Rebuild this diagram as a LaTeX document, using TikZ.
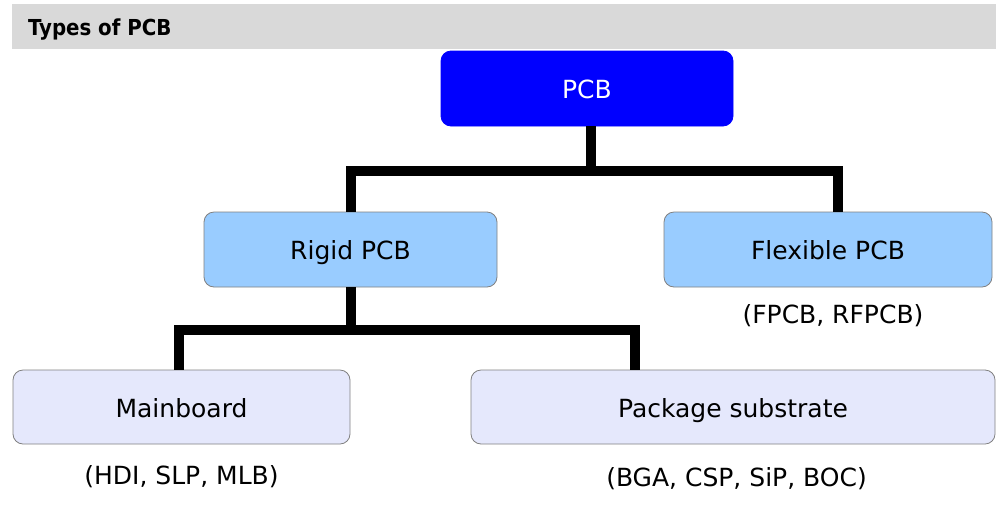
\documentclass[tikz,border=0pt]{standalone}
\usepackage{fontspec}
\setmainfont{DejaVu Sans}
\newfontfamily\titlefont{DejaVu Sans Condensed Bold}
\definecolor{hdrgray}{HTML}{D9D9D9}
\definecolor{pcbblue}{HTML}{0000FF}
\definecolor{midblue}{HTML}{99CCFF}
\definecolor{paleblue}{HTML}{E5E8FC}
\definecolor{edgegray}{HTML}{808080}
\begin{document}
\begin{tikzpicture}[x=1pt,y=-1pt,
  box/.style={rounded corners=10pt, draw=edgegray, line width=0.8pt, inner sep=0pt,
    font=\fontsize{25}{29}\selectfont, text=black, text height=20pt, text depth=0pt},
  topbox/.style={box, fill=pcbblue, draw=pcbblue, text=white},
  midbox/.style={box, fill=midblue},
  lowbox/.style={box, fill=paleblue},
  sub/.style={inner sep=0pt, font=\fontsize{25}{29}\selectfont, text height=20pt, text depth=0pt},
  conn/.style={line width=10pt, black}]
\useasboundingbox (0,0) rectangle (998,504);
\fill[hdrgray] (12,4) rectangle (996,49);
\node[anchor=west, inner sep=0pt, font=\fontsize{22}{26}\titlefont] (title) at (28,29.5) {Types of PCB};

\node[topbox, minimum width=292pt, minimum height=75pt] (pcb) at (587,88.5) {PCB};
\node[midbox, minimum width=293pt, minimum height=75pt] (rigid) at (350.5,249.5) {Rigid PCB};
\node[midbox, minimum width=328pt, minimum height=75pt] (flex) at (828,249.5) {Flexible PCB};
\node[lowbox, minimum width=337pt, minimum height=74pt] (main) at (181.5,407) {Mainboard};
\node[lowbox, minimum width=524pt, minimum height=74pt] (pkg) at (733,407) {Package substrate};

\node[sub] (flexsub) at (833,313) {(FPCB, RFPCB)};
\node[sub] (mainsub) at (181.5,474) {(HDI, SLP, MLB)};
\node[sub] (pkgsub) at (736.5,476) {(BGA, CSP, SiP, BOC)};

\draw[conn] (590.5,0 |- pcb.south) -- (590.5,171);
\draw[conn] (351,0 |- rigid.north) |- (838,171) -- (838,0 |- flex.north);
\draw[conn] (351,0 |- rigid.south) -- (351,330);
\draw[conn] (179,0 |- main.north) |- (634.5,330) -- (634.5,0 |- pkg.north);
\end{tikzpicture}
\end{document}
